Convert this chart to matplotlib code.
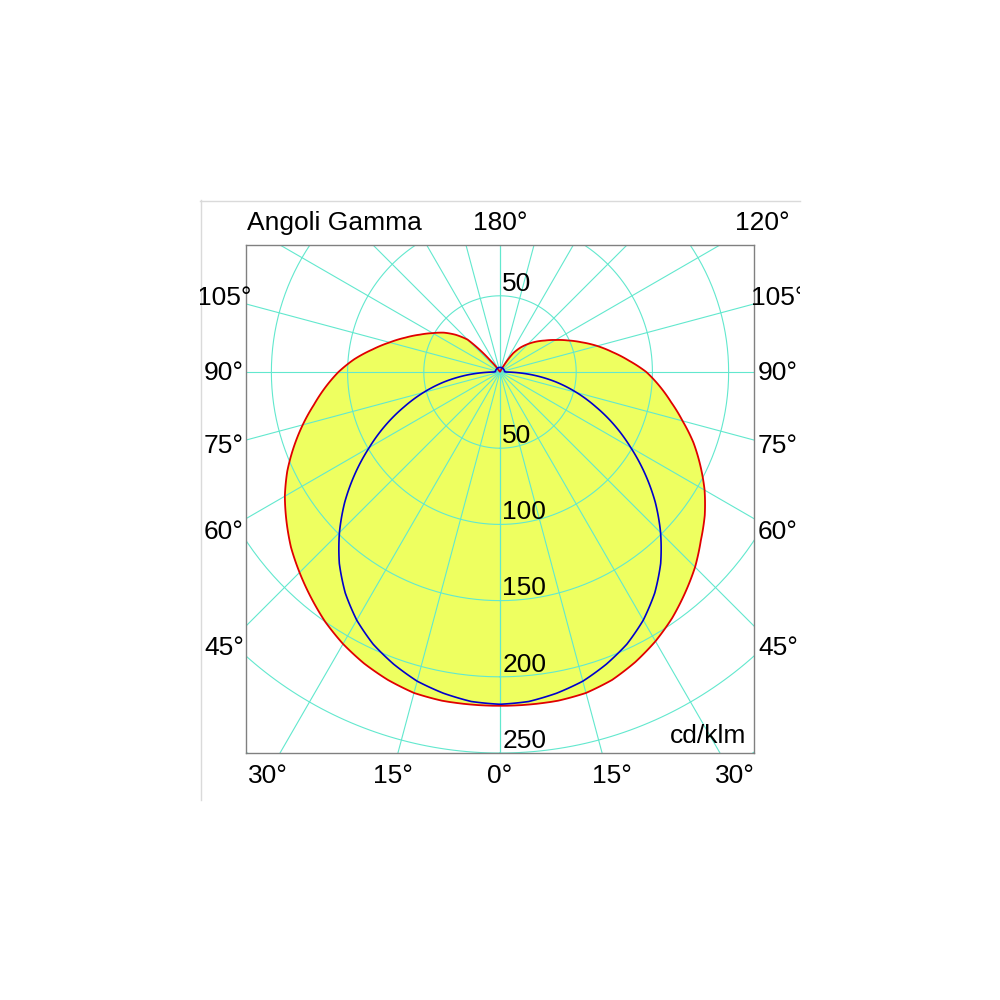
import numpy as np
import matplotlib.pyplot as plt
from matplotlib.patches import Rectangle, PathPatch
from matplotlib.path import Path
from matplotlib.lines import Line2D
from matplotlib.transforms import Bbox, TransformedBbox

plt.rcParams['font.family'] = ['Liberation Sans', 'DejaVu Sans']

# gamma angles (deg) and intensities in cd/klm
gamma = [0, 5, 10, 15, 20, 25, 30, 35, 40, 45, 50, 55, 60, 65, 70, 75, 80, 85, 90,
         95, 100, 105, 110, 115, 120, 125, 130, 135, 140, 145, 150, 155, 160, 165, 170, 175, 180]
red_c0 = [219, 219, 219, 218, 215, 210, 204, 197, 189, 181, 172, 164, 155, 145, 135, 124, 114, 105, 96,
          85, 75, 66, 57, 49, 42, 36, 31, 26, 21, 15, 4, 0, 0, 0, 0, 0, 0]
red_c180 = [219, 219, 219, 218, 215, 211, 206, 200, 193, 186, 179, 171, 163, 154, 144, 134, 124, 115, 106,
            96, 85, 75, 66, 58, 51, 45, 38, 30, 10, 1, 0, 0, 0, 0, 0, 0, 0]
blue_c90 = [218, 217, 214, 210, 204, 197, 188, 177, 164, 149, 133, 116, 99, 83, 67, 52, 37, 21, 4,
            3, 3, 3, 3, 3, 3, 3, 3, 3, 3, 3, 3, 3, 3, 3, 3, 3, 3]

grid_radii = [50, 100, 150, 200, 250, 300]
grid_angles = [0, 15, 30, 45, 60, 75, 90, 105, 120, 135, 150, 165, 180]
upper_labels = ["50"]
lower_labels = ["50", "100", "150", "200", "250"]
left_labels = ["105°", "90°", "75°", "60°", "45°"]
right_labels = ["105°", "90°", "75°", "60°", "45°"]
bottom_labels = ["30°", "15°", "0°", "15°", "30°"]

grid_col = '#62E8CE'
fill_col = '#EEFF60'

fig = plt.figure(figsize=(10, 10), dpi=100)

# frame of the diagram (pixels 246..754 x 245..753), pole at (500, 372)
frame = [0.246, 0.247, 0.508, 0.508]
rmax = 300
rpx = rmax * 0.508 / 333.3
pax = fig.add_axes([0.5 - rpx, 0.628 - rpx, 2 * rpx, 2 * rpx], projection='polar')
pax.set_theta_zero_location('S')
pax.set_ylim(0, rmax)
pax.axis('off')
pax.patch.set_visible(False)
clip = Rectangle((frame[0], frame[1]), frame[2], frame[3], transform=fig.transFigure,
                 fill=False, visible=False)
fig.add_artist(clip)

g = np.radians(gamma)
theta = np.concatenate([g, (2 * np.pi - g)[::-1]])
red = np.concatenate([red_c0, red_c180[::-1]])
blue = np.concatenate([blue_c90, blue_c90[::-1]])


def polar_path(t, r):
    # straight segments in (theta, r) get drawn as spiral arcs by the polar transform
    return Path(np.column_stack([t, r]), _interpolation_steps=20)


arts = []
arts.append(pax.add_patch(PathPatch(polar_path(theta, red), fc=fill_col, ec='none', zorder=1)))
circ_t = np.linspace(0, 2 * np.pi, 361)
for r in grid_radii:
    arts += pax.plot(circ_t, np.full_like(circ_t, r), color=grid_col, lw=0.8, zorder=2)
for a in grid_angles:
    for t in (np.radians(a), -np.radians(a)):
        arts += pax.plot([t, t], [0, 400], color=grid_col, lw=0.8, zorder=2)
arts.append(pax.add_patch(PathPatch(polar_path(theta, red), fill=False, ec='#E00000', lw=1.3, zorder=3)))
arts.append(pax.add_patch(PathPatch(polar_path(theta, blue), fill=False, ec='#0000CC', lw=1.2, zorder=4)))
for art in arts:
    art.set_clip_path(clip)

ax = fig.add_axes(frame)
ax.set_xlim(-166.6, 166.6)
ax.set_ylim(-250.5, 83.3)
ax.patch.set_visible(False)
ax.set_xticks([])
ax.set_yticks([])
for s in ax.spines.values():
    s.set_color('#808080')
    s.set_linewidth(1.0)

fs = 19
for lab in upper_labels:
    ax.text(1.5, float(lab) + 3, lab, fontsize=fs, ha='left', va='baseline')
for lab in lower_labels:
    ax.text(1.5, -float(lab) + 3, lab, fontsize=fs, ha='left', va='baseline')


def ftext(px, py, s, **kw):
    t = fig.text(px / 1000, 1 - py / 1000, s, fontsize=fs, va='center', **kw)
    t.set_clip_box(TransformedBbox(Bbox([[0.2, 0.2], [0.8, 0.8]]), fig.transFigure))
    t.set_clip_on(True)
    return t


ftext(247, 223, "Angoli Gamma", ha='left')
ftext(500, 223, "180°", ha='center')
ftext(762, 223, "120°", ha='center')
for lab, py in zip(left_labels, [298, 373, 446, 532, 648]):
    ftext(224, py, lab, ha='center')
for lab, py in zip(right_labels, [298, 373, 446, 532, 648]):
    ftext(778, py, lab, ha='center')
for lab, px in zip(bottom_labels, [268, 393, 500, 612, 735]):
    ftext(px, 776, lab, ha='center')
ftext(746, 736, "cd/klm", ha='right')

# light frame of the original image
fig.add_artist(Line2D([0.2, 0.8], [0.799, 0.799], color='#DADADA', lw=1))
fig.add_artist(Line2D([0.201, 0.201], [0.2, 0.8], color='#DADADA', lw=1))

fig.savefig('out.png', dpi=100)
